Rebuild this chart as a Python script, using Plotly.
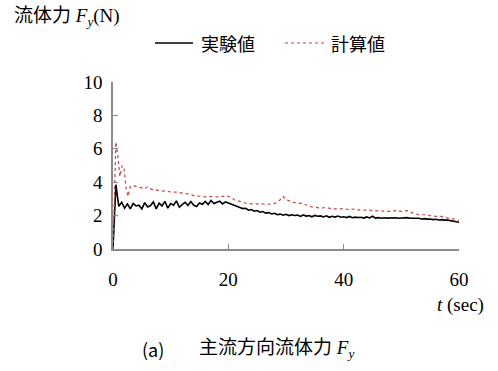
import plotly.graph_objects as go

# ---- data -------------------------------------------------------------
# measured fluid force (実験値), sampled every 0.5 s
t_exp = [i * 0.5 for i in range(121)]
f_exp = [
    0.00, 3.85, 2.55, 2.80, 2.45, 2.70, 2.40, 2.72, 2.58, 2.62,
    2.40, 2.78, 2.52, 2.60, 2.82, 2.40, 2.75, 2.58, 2.85, 2.45,
    2.72, 2.62, 2.88, 2.50, 2.66, 2.80, 2.60, 2.84, 2.62, 2.55,
    2.76, 2.68, 2.85, 2.66, 2.90, 2.72, 2.80, 2.86, 2.70, 2.82,
    2.76, 2.68, 2.62, 2.56, 2.48, 2.42, 2.44, 2.32, 2.36, 2.26,
    2.30, 2.20, 2.24, 2.15, 2.18, 2.10, 2.14, 2.05, 2.09, 2.02,
    2.08, 2.00, 2.05, 2.01, 2.03, 1.95, 2.04, 1.97, 2.00, 1.93,
    2.01, 1.96, 1.98, 1.92, 1.99, 1.90, 1.96, 1.91, 1.97, 1.90,
    1.93, 1.88, 1.95, 1.87, 1.91, 1.89, 1.90, 1.85, 1.92, 1.86,
    1.96, 1.85, 1.88, 1.84, 1.87, 1.85, 1.86, 1.83, 1.87, 1.84,
    1.86, 1.85, 1.88, 1.84, 1.85, 1.83, 1.84, 1.80, 1.82, 1.79,
    1.80, 1.76, 1.78, 1.74, 1.76, 1.73, 1.74, 1.70, 1.66, 1.63,
    1.60,
]

# computed fluid force (計算値)
t_calc = [
    0.0, 0.5, 0.9, 1.2, 1.6, 1.9, 2.3, 2.6, 3.0, 3.5,
    4.0, 4.5, 5.0, 5.5, 6.0, 6.5, 7.0, 8.0, 9.0, 10.0,
    11.0, 12.0, 13.0, 14.0, 15.0, 16.0, 17.0, 18.0, 19.0, 20.0,
    20.5, 21.0, 22.0, 23.0, 24.0, 25.0, 26.0, 27.0, 28.0, 28.7,
    29.5, 30.0, 30.5, 31.0, 32.0, 33.0, 34.0, 35.0, 36.0, 37.0,
    38.0, 39.0, 40.0, 41.0, 42.0, 43.0, 44.0, 45.0, 46.0, 47.0,
    48.0, 49.0, 50.0, 51.0, 52.0, 53.0, 54.0, 55.0, 56.0, 57.0,
    58.0, 59.0, 60.0,
]
f_calc = [
    0.00, 6.40, 5.40, 4.35, 5.00, 4.80, 3.60, 3.15, 3.75, 3.80,
    3.75, 3.70, 3.65, 3.60, 3.72, 3.60, 3.55, 3.50, 3.45, 3.42,
    3.40, 3.35, 3.30, 3.20, 3.15, 3.12, 3.15, 3.12, 3.15, 3.15,
    3.10, 2.95, 2.85, 2.75, 2.70, 2.72, 2.70, 2.68, 2.72, 2.85,
    3.15, 2.95, 2.90, 2.80, 2.75, 2.72, 2.55, 2.52, 2.45, 2.48,
    2.40, 2.40, 2.42, 2.35, 2.40, 2.30, 2.35, 2.30, 2.28, 2.30,
    2.25, 2.30, 2.25, 2.30, 2.15, 2.05, 2.05, 2.00, 1.95, 1.95,
    1.85, 1.80, 1.72,
]

x_ticks = [0, 20, 40, 60]
y_ticks = [0, 2, 4, 6, 8, 10]

# ---- layout geometry ----------------------------------------------------
W, H = 498, 371
ML, MR, MT, MB = 113, 39, 82, 122
PW, PH = W - ML - MR, H - MT - MB


def px(x):
    return (x - ML) / PW


def py(y):
    return (H - MB - y) / PH


SERIF = "Liberation Serif"
MIXED = "Liberation Serif, Noto Sans CJK JP"
GOTHIC = "Noto Sans CJK JP"
RED = "#c8453f"
AXIS = "#8c8c8c"

fig = go.Figure()
fig.add_trace(go.Scatter(x=t_exp, y=f_exp, mode="lines", name="実験値",
                         line=dict(color="black", width=1.6)))
fig.add_trace(go.Scatter(x=t_calc, y=f_calc, mode="lines", name="計算値",
                         line=dict(color=RED, width=1.2, dash="dot")))

axis_common = dict(showline=True, linecolor=AXIS, linewidth=1.5,
                   ticks="inside", ticklen=5, tickcolor=AXIS, tickwidth=1.2,
                   showgrid=False, zeroline=False,
                   tickfont=dict(family=SERIF, size=19, color="black"))

fig.update_xaxes(range=[0, 60], tickvals=x_ticks, ticklabelstandoff=12,
                 **axis_common)
fig.update_yaxes(range=[0, 10], tickvals=y_ticks, ticklabelstandoff=5,
                 **axis_common)

annotations = [
    dict(text="流体力 <i>F</i><sub><i>y</i></sub>(N)", x=px(12), y=py(17),
         xanchor="left", yanchor="middle", font=dict(family=MIXED, size=19)),
    dict(text="実験値", x=px(199), y=py(43), xanchor="left", yanchor="middle",
         font=dict(family=GOTHIC, size=18)),
    dict(text="計算値", x=px(329), y=py(43), xanchor="left", yanchor="middle",
         font=dict(family=GOTHIC, size=18)),
    dict(text="<i>t</i> (sec)", x=px(435), y=py(305), xanchor="left",
         yanchor="middle", font=dict(family=SERIF, size=19)),
    dict(text="(a)", x=px(140), y=py(349), xanchor="left", yanchor="middle",
         font=dict(family=GOTHIC, size=18)),
    dict(text="主流方向流体力 <i>F</i><sub><i>y</i></sub>", x=px(197), y=py(349),
         xanchor="left", yanchor="middle", font=dict(family=MIXED, size=19)),
]
for a in annotations:
    a.update(xref="paper", yref="paper", showarrow=False)
    a["font"]["color"] = "black"

shapes = [
    dict(type="line", xref="paper", yref="paper", x0=px(155), x1=px(193),
         y0=py(43), y1=py(43), line=dict(color="black", width=1.5)),
    dict(type="line", xref="paper", yref="paper", x0=px(285), x1=px(327),
         y0=py(43), y1=py(43), line=dict(color=RED, width=1.2, dash="dot")),
]

fig.update_layout(
    width=W, height=H,
    margin=dict(l=ML, r=MR, t=MT, b=MB),
    paper_bgcolor="white", plot_bgcolor="white",
    showlegend=False,
    annotations=annotations, shapes=shapes,
)

fig.write_html("out.html")
